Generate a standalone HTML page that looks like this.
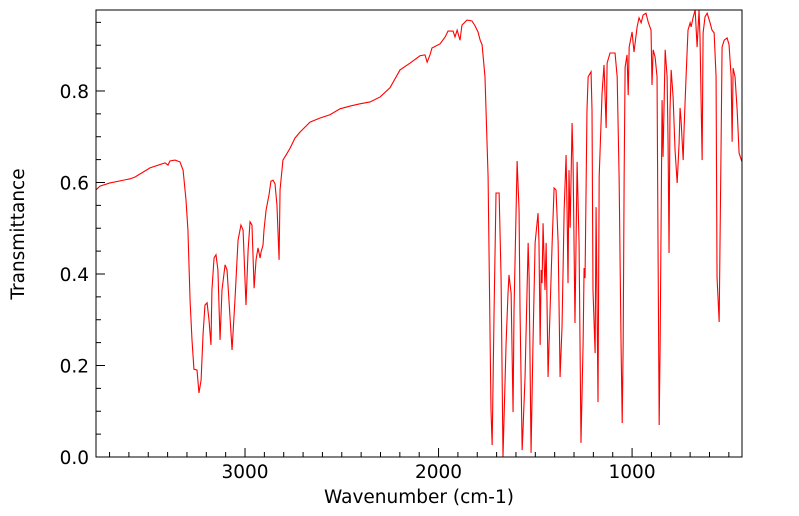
<!DOCTYPE html>
<html><head><meta charset="utf-8"><style>
html,body{margin:0;padding:0;background:#fff;}
svg{display:block;font-family:"DejaVu Sans","Liberation Sans",sans-serif;}
</style></head><body>
<svg id="chart" width="799" height="516" viewBox="0 0 799 516"></svg>
<script>
const wavenumbers=[3770,3749,3698,3594,3568,3491,3413,3398,3388,3362,3336,3320,3305,3295,3284,3274,3264,3248,3238,3227,3217,3207,3196,3186,3176,3171,3160,3150,3140,3129,3119,3103,3093,3083,3067,3052,3036,3021,3010,2995,2984,2974,2964,2953,2943,2933,2922,2917,2907,2902,2891,2876,2866,2855,2845,2835,2824,2819,2804,2788,2767,2742,2716,2664,2612,2561,2509,2457,2406,2354,2302,2251,2199,2147,2096,2070,2059,2044,2034,1992,1966,1951,1925,1915,1904,1889,1879,1853,1827,1811,1796,1785,1775,1760,1744,1729,1723,1713,1703,1687,1677,1667,1651,1641,1636,1625,1615,1610,1594,1584,1579,1568,1563,1553,1537,1532,1522,1512,1501,1486,1481,1475,1470,1465,1460,1450,1444,1434,1429,1413,1403,1393,1382,1372,1362,1351,1341,1336,1331,1326,1320,1310,1305,1295,1284,1274,1264,1253,1248,1243,1233,1227,1212,1207,1202,1191,1186,1176,1170,1155,1145,1140,1134,1129,1114,1088,1077,1067,1057,1051,1046,1041,1036,1026,1020,1015,1000,990,974,964,953,943,928,917,902,897,891,881,871,866,860,855,845,840,829,819,814,809,804,798,788,778,767,757,752,747,736,731,721,711,700,695,685,674,664,654,649,638,633,623,612,597,587,576,566,561,550,540,535,524,509,499,488,483,478,468,457,447,432];
const transmittance=[0.584,0.592,0.599,0.608,0.612,0.632,0.643,0.638,0.647,0.649,0.645,0.627,0.562,0.496,0.343,0.256,0.192,0.190,0.140,0.168,0.267,0.332,0.337,0.299,0.245,0.365,0.435,0.442,0.409,0.256,0.365,0.420,0.409,0.343,0.234,0.343,0.474,0.507,0.496,0.332,0.452,0.514,0.507,0.369,0.431,0.457,0.435,0.448,0.463,0.496,0.540,0.573,0.603,0.605,0.597,0.551,0.431,0.584,0.649,0.660,0.675,0.697,0.710,0.732,0.741,0.748,0.761,0.767,0.772,0.776,0.787,0.807,0.846,0.861,0.877,0.879,0.863,0.879,0.894,0.903,0.918,0.931,0.931,0.918,0.933,0.911,0.944,0.955,0.953,0.942,0.929,0.911,0.901,0.831,0.612,0.103,0.026,0.321,0.577,0.577,0.393,0.0,0.249,0.358,0.398,0.358,0.098,0.321,0.647,0.540,0.321,0.015,0.066,0.175,0.468,0.393,0.009,0.249,0.468,0.533,0.468,0.245,0.409,0.380,0.511,0.365,0.468,0.175,0.249,0.468,0.588,0.584,0.468,0.175,0.284,0.540,0.660,0.540,0.380,0.627,0.501,0.730,0.649,0.293,0.645,0.468,0.031,0.249,0.413,0.391,0.758,0.831,0.842,0.758,0.365,0.227,0.546,0.120,0.612,0.796,0.857,0.796,0.719,0.861,0.883,0.883,0.831,0.612,0.249,0.074,0.249,0.612,0.852,0.879,0.791,0.896,0.929,0.885,0.940,0.960,0.949,0.966,0.970,0.951,0.933,0.813,0.890,0.874,0.831,0.468,0.070,0.249,0.780,0.656,0.890,0.831,0.686,0.446,0.758,0.846,0.787,0.671,0.599,0.686,0.763,0.737,0.649,0.721,0.831,0.933,0.949,0.940,0.960,0.977,0.896,0.977,0.918,0.649,0.927,0.962,0.970,0.949,0.933,0.927,0.831,0.393,0.295,0.686,0.896,0.911,0.916,0.901,0.831,0.689,0.850,0.831,0.758,0.664,0.645];
const xTicks=[3000,2000,1000];
const xTickLabels=["3000","2000","1000"];
const yTicks=[0,0.2,0.4,0.6,0.8];
const yTickLabels=["0.0","0.2","0.4","0.6","0.8"];

const L=96,R=742,T=10,B=457;
const xMin=3770,xMax=432,yMin=0,yMax=0.977;
function xs(v){return L+(xMin-v)/(xMin-xMax)*(R-L);}
function ys(v){return B-(v-yMin)/(yMax-yMin)*(B-T);}
const NS="http://www.w3.org/2000/svg";
const svg=document.getElementById('chart');
function mk(tag,attrs,parent){const e=document.createElementNS(NS,tag);for(const k in attrs)e.setAttribute(k,attrs[k]);(parent||svg).appendChild(e);return e;}

const defs=mk('defs',{});
const cp=mk('clipPath',{id:'clip'},defs);
mk('rect',{x:L,y:T,width:R-L,height:B-T},cp);

let d='';
for(let i=0;i<wavenumbers.length;i++){d+=(i?'L':'M')+xs(wavenumbers[i]).toFixed(2)+' '+ys(transmittance[i]).toFixed(2);}
const line=mk('path',{d:d,fill:'none',stroke:'#ff0000','stroke-width':1.1,'clip-path':'url(#clip)'});



const frame=mk('rect',{x:L,y:T,width:R-L,height:B-T,fill:'none',stroke:'#000','stroke-width':1});



const xg=mk('g',{});


for(let v=3700;v>=500;v-=100){
  const major=(v%1000===0);
  const x=xs(v);
  mk('line',{x1:x,x2:x,y1:B,y2:B-(major?9:5),stroke:'#000','stroke-width':1},xg);
}
xTicks.forEach((v,i)=>{
  const t=mk('text',{x:xs(v),y:478,'text-anchor':'middle','font-size':18.5,fill:'#000'},xg);
  t.textContent=xTickLabels[i];
  
  
});
const xt=mk('text',{x:419,y:503,'text-anchor':'middle','font-size':18.5,fill:'#000'});
xt.textContent='Wavenumber (cm-1)';



const yg=mk('g',{});


for(let k=0;k<=19;k++){
  const v=k*0.05;if(v>yMax)break;
  const major=(k%4===0);
  const y=ys(v);
  mk('line',{x1:L,x2:L+(major?9:5),y1:y,y2:y,stroke:'#000','stroke-width':1},yg);
}
yTicks.forEach((v,i)=>{
  const t=mk('text',{x:89,y:ys(v)+7,'text-anchor':'end','font-size':18.5,fill:'#000'},yg);
  t.textContent=yTickLabels[i];
  
  
});
const yt=mk('text',{x:24,y:234,'text-anchor':'middle','font-size':18.5,fill:'#000',transform:'rotate(-90 24 234)'});
yt.textContent='Transmittance';


</script>
</body></html>
